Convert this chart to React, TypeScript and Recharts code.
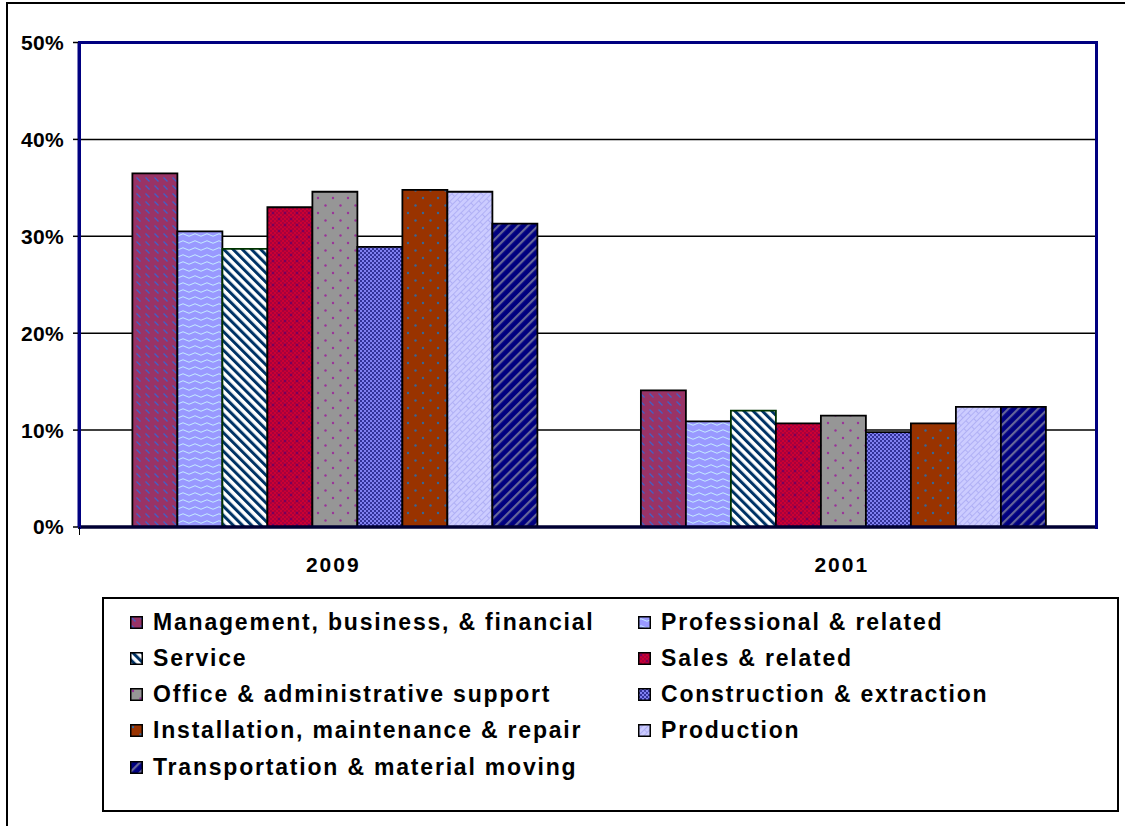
import React from 'react'
import { Bar, BarChart, CartesianGrid, XAxis, YAxis } from 'recharts'

// Share of workers, by occupation group, 2009 vs 2001 (percent)
const years = ['2009', '2001']
const seriesNames = [
  'Management, business, & financial',
  'Professional & related',
  'Service',
  'Sales & related',
  'Office & administrative support',
  'Construction & extraction',
  'Installation, maintenance & repair',
  'Production',
  'Transportation & material moving',
]
const management = [36.5, 14.1]
const professional = [30.5, 10.9]
const service = [28.7, 12.0]
const sales = [33.0, 10.7]
const office = [34.6, 11.5]
const construction = [28.9, 9.8]
const installation = [34.8, 10.7]
const production = [34.6, 12.4]
const transportation = [31.3, 12.4]
const yTicks = [0, 10, 20, 30, 40, 50]

const seriesValues = [
  management,
  professional,
  service,
  sales,
  office,
  construction,
  installation,
  production,
  transportation,
]

// pattern id + outline colour per series (Excel-ish fills)
const FILLS = ['pMgmt', 'pProf', 'pServ', 'pSales', 'pOffice', 'pConst', 'pInst', 'pProd', 'pTrans']
const OUTLINES = ['#000', '#000', '#003300', '#000', '#000', '#000', '#000', '#000', '#000']

const FONT = '"Liberation Sans", Arial, sans-serif'

const rows = years.map((year, i) => {
  const row: Record<string, string | number> = { year }
  seriesNames.forEach((name, s) => {
    row[name] = seriesValues[s][i]
  })
  return row
})

function Patterns() {
  return (
    <svg width={0} height={0} style={{ position: 'absolute' }}>
      <defs>
        <pattern id="pMgmt" width="9" height="8" patternUnits="userSpaceOnUse">
          <rect width="9" height="8" fill="#993366" />
          <path d="M1.5 1.5 L5.5 5.5" stroke="#4060c8" strokeWidth="1.2" />
        </pattern>
        <pattern id="pProf" width="12" height="7" patternUnits="userSpaceOnUse">
          <rect width="12" height="7" fill="#9999ff" />
          <path d="M0 4 Q3 1.5 6 4 T12 4" stroke="#c8f4ff" strokeWidth="0.9" fill="none" />
        </pattern>
        <pattern id="pServ" width="6.5" height="6.5" patternUnits="userSpaceOnUse" patternTransform="rotate(-45)">
          <rect width="6.5" height="6.5" fill="#ffffff" />
          <rect width="3" height="6.5" fill="#003366" />
        </pattern>
        <pattern id="pSalesChk" width="4" height="4" patternUnits="userSpaceOnUse">
          <rect width="4" height="4" fill="#cc0033" />
          <rect width="2" height="2" fill="#a8003c" />
          <rect x="2" y="2" width="2" height="2" fill="#a8003c" />
        </pattern>
        <pattern id="pSales" width="12" height="12" patternUnits="userSpaceOnUse">
          <rect width="12" height="12" fill="url(#pSalesChk)" />
          <path d="M3 1.5 V4.5 M1.5 3 H4.5 M9 7.5 V10.5 M7.5 9 H10.5" stroke="#660066" strokeWidth="1" />
        </pattern>
        <pattern id="pOffice" width="15" height="15" patternUnits="userSpaceOnUse">
          <rect width="15" height="15" fill="#969696" />
          <circle cx="3" cy="3" r="1.2" fill="#993399" />
          <circle cx="10.5" cy="10.5" r="1.2" fill="#993399" />
        </pattern>
        <pattern id="pConst" width="4" height="4" patternUnits="userSpaceOnUse">
          <rect width="4" height="4" fill="#8080f0" />
          <rect width="2" height="2" fill="#333399" />
          <rect x="2" y="2" width="2" height="2" fill="#333399" />
        </pattern>
        <pattern id="pInst" width="15" height="15" patternUnits="userSpaceOnUse">
          <rect width="15" height="15" fill="#993300" />
          <circle cx="3" cy="3" r="1.2" fill="#336699" />
          <circle cx="10.5" cy="10.5" r="1.2" fill="#336699" />
        </pattern>
        <pattern id="pProd" width="14" height="8" patternUnits="userSpaceOnUse" patternTransform="rotate(-45)">
          <rect width="14" height="8" fill="#ccccff" />
          <path d="M0 0.5 H14 M0 4.5 H14 M0.5 0 V4.5 M7.5 4.5 V8" stroke="#b0b0f5" strokeWidth="1" fill="none" />
        </pattern>
        <pattern id="pTrans" width="7" height="7" patternUnits="userSpaceOnUse" patternTransform="rotate(45)">
          <rect width="7" height="7" fill="#000080" />
          <rect width="2.2" height="7" fill="#666699" />
        </pattern>
      </defs>
    </svg>
  )
}

function LegendBox() {
  return (
    <div
      style={{
        position: 'absolute',
        left: 102,
        top: 597,
        width: 1017,
        height: 215,
        border: '2px solid #000',
        boxSizing: 'border-box',
        background: '#fff',
      }}
    >
      {seriesNames.map((name, k) => {
        const col = k % 2
        const row = Math.floor(k / 2)
        return (
          <div
            key={name}
            style={{
              position: 'absolute',
              left: col === 0 ? 26 : 534,
              top: 23 + row * 36.3 - 14,
              height: 28,
              display: 'flex',
              alignItems: 'center',
              whiteSpace: 'nowrap',
            }}
          >
            <svg width={13} height={13} style={{ marginRight: 10 }}>
              <rect x={0.75} y={0.75} width={11.5} height={11.5} fill={`url(#${FILLS[k]})`} stroke="#000" strokeWidth={1.5} />
            </svg>
            <span
              style={{
                fontFamily: FONT,
                fontWeight: 'bold',
                fontSize: 23,
                letterSpacing: 1.8,
                color: '#000',
              }}
            >
              {name}
            </span>
          </div>
        )
      })}
    </div>
  )
}

export default function App() {
  return (
    <div style={{ position: 'relative', width: 1125, height: 826, background: '#fff', overflow: 'hidden' }}>
      <style>{'body{margin:0}'}</style>
      <Patterns />
      {/* outer chart frame, right/bottom edges fall outside the picture */}
      <div
        style={{
          position: 'absolute',
          left: 6,
          top: 2,
          width: 1200,
          height: 900,
          borderLeft: '2.5px solid #000',
          borderTop: '2.5px solid #000',
        }}
      />
      <div style={{ position: 'absolute', left: 0, top: 0 }}>
        <BarChart
          width={1125}
          height={826}
          data={rows}
          margin={{ top: 42.5, right: 29, left: 0, bottom: 259 }}
          barCategoryGap="10.5%"
          barGap={0}
        >
          <CartesianGrid vertical={false} stroke="#000" strokeWidth={1.5} />
          <XAxis
            dataKey="year"
            height={40}
            axisLine={{ stroke: '#000033', strokeWidth: 3.5 }}
            tickLine={false}
            tickSize={0}
            tickMargin={30}
            tick={{ fontFamily: FONT, fontWeight: 'bold', fontSize: 21, fill: '#000', letterSpacing: 2 }}
          />
          <YAxis
            domain={[0, 50]}
            ticks={yTicks}
            width={79}
            interval={0}
            tickFormatter={(v: number) => `${v}%`}
            axisLine={{ stroke: '#000080', strokeWidth: 3 }}
            tickLine={{ stroke: '#000', strokeWidth: 1.5 }}
            tickSize={6}
            tickMargin={9}
            tick={{ fontFamily: FONT, fontWeight: 'bold', fontSize: 21, fill: '#000', letterSpacing: 0.3 }}
          />
          {seriesNames.map((name, s) => (
            <Bar
              key={name}
              dataKey={name}
              fill={`url(#${FILLS[s]})`}
              stroke={OUTLINES[s]}
              strokeWidth={1.8}
              isAnimationActive={false}
            />
          ))}
        </BarChart>
      </div>
      {/* plot area frame (navy) */}
      <div
        style={{
          position: 'absolute',
          left: 77.5,
          top: 41,
          width: 1020,
          height: 487.5,
          border: '3px solid #000080',
          borderBottom: 'none',
          boxSizing: 'border-box',
          pointerEvents: 'none',
        }}
      />
      {/* small tick below the axis origin */}
      <div style={{ position: 'absolute', left: 78.5, top: 527, width: 1.5, height: 8, background: '#000' }} />
      <LegendBox />
    </div>
  )
}
